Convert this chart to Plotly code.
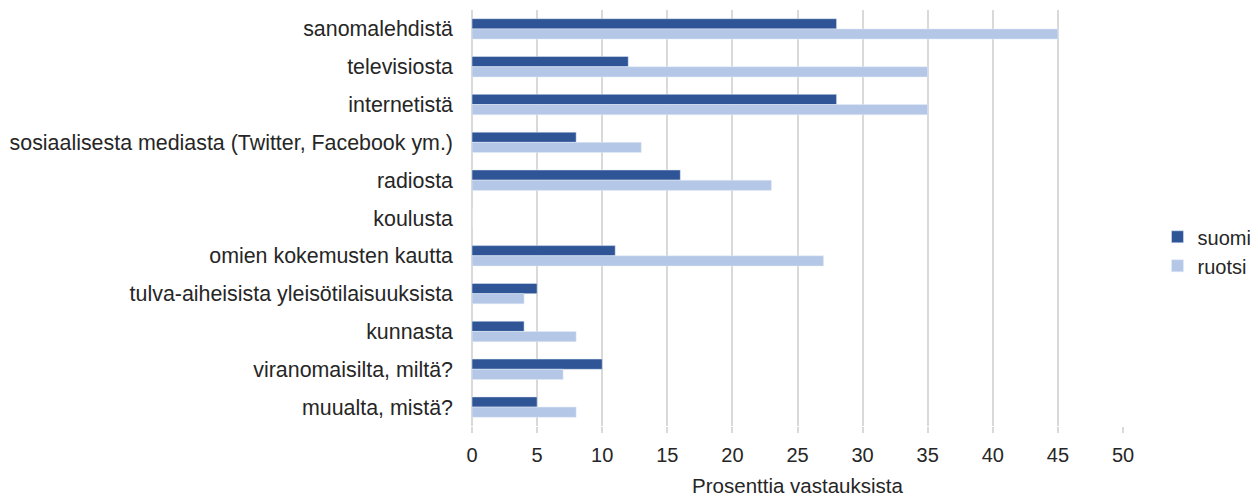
import plotly.graph_objects as go

categories = [
    "sanomalehdistä",
    "televisiosta",
    "internetistä",
    "sosiaalisesta mediasta (Twitter, Facebook ym.)",
    "radiosta",
    "koulusta",
    "omien kokemusten kautta",
    "tulva-aiheisista yleisötilaisuuksista",
    "kunnasta",
    "viranomaisilta, miltä?",
    "muualta, mistä?",
]
suomi = [28, 12, 28, 8, 16, 0, 11, 5, 4, 10, 5]
ruotsi = [45, 35, 35, 13, 23, 0, 27, 4, 8, 7, 8]
x_ticks = [0, 5, 10, 15, 20, 25, 30, 35, 40, 45, 50]

fig = go.Figure()
fig.add_trace(go.Bar(y=categories, x=suomi, orientation="h", name="suomi",
                     marker=dict(color="#2F5597")))
fig.add_trace(go.Bar(y=categories, x=ruotsi, orientation="h", name="ruotsi",
                     marker=dict(color="#B4C7E7")))

fig.update_layout(
    width=1250, height=489,
    margin=dict(l=464, r=130, t=2, b=71),
    barmode="group", bargap=0.46, bargroupgap=0,
    plot_bgcolor="white", paper_bgcolor="white",
    font=dict(family="Liberation Sans, Arial, sans-serif", size=20, color="#262626"),
    legend=dict(x=1.053, y=0.42, yanchor="middle", xanchor="left",
                font=dict(size=20), tracegroupgap=1, itemwidth=30),
    xaxis=dict(range=[0, 50], tickvals=x_ticks, showgrid=True, gridcolor="#D9D9D9",
               gridwidth=1.5, zeroline=True, zerolinecolor="#D9D9D9", zerolinewidth=1.5,
               ticks="outside", ticklen=6, tickcolor="#D9D9D9", tickwidth=1.5,
               ticklabelstandoff=5,
               title=dict(text="Prosenttia vastauksista", standoff=16, font=dict(size=20.5))),
    yaxis=dict(autorange="reversed", showgrid=False, ticks="", ticklabelstandoff=18,
               tickfont=dict(size=21.4)),
)

fig.write_html("out.html")
